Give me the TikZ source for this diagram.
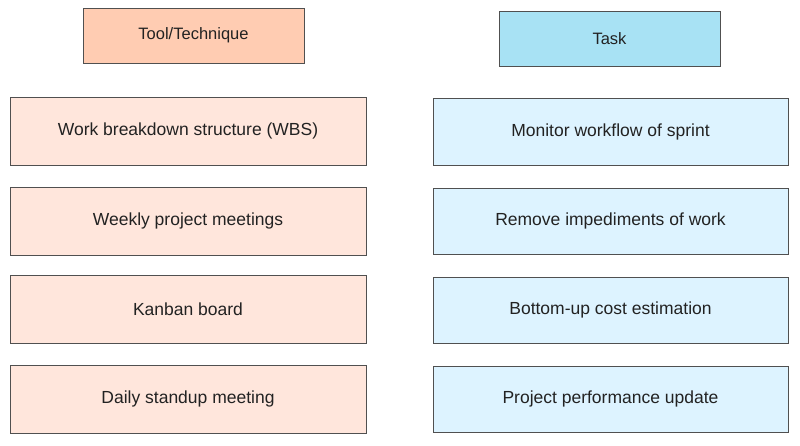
\documentclass[tikz,border=0pt]{standalone}
\usepackage{fontspec}
\setmainfont{Liberation Sans}
\usepackage{tikz}
\usetikzlibrary{positioning}
\usepackage{xcolor}
\definecolor{tthead}{RGB}{255,204,178}
\definecolor{ttbody}{RGB}{255,230,220}
\definecolor{taskhead}{RGB}{168,226,244}
\definecolor{taskbody}{RGB}{221,243,255}
\definecolor{boxline}{RGB}{80,80,80}
\definecolor{boxtext}{RGB}{34,34,34}
\tikzstyle{header} = [rectangle, minimum width=221pt, minimum height=55pt, text centered, draw=boxline, line width=0.9pt, text=boxtext, font=\fontsize{16.5}{19}\selectfont]
\tikzstyle{item} = [rectangle, minimum width=356pt, minimum height=68pt, text centered, draw=boxline, line width=0.9pt, text=boxtext, font=\fontsize{17.5}{20}\selectfont]
\begin{document}
\begin{tikzpicture}[x=1pt,y=-1pt]
\useasboundingbox (0,0) rectangle (800,445);
\node[header, fill=tthead] (tool) at (193.5,35.5) {Tool/Technique};
\node[header, fill=taskhead] (task) at (609.5,39) {Task};

\node[item, fill=ttbody] (wbs) at (188,131) {Work breakdown structure (WBS)};
\node[item, fill=ttbody] (weekly) at (188,221) {Weekly project meetings};
\node[item, fill=ttbody] (kanban) at (188,309) {Kanban board};
\node[item, fill=ttbody] (standup) at (188,399) {Daily standup meeting};

\node[item, fill=taskbody, minimum width=355pt, minimum height=67pt] (monitor) at (610.5,132) {Monitor workflow of sprint};
\node[item, fill=taskbody, minimum width=355pt, minimum height=66pt] (remove) at (610.5,221) {Remove impediments of work};
\node[item, fill=taskbody, minimum width=355pt, minimum height=66pt] (cost) at (610.5,310) {Bottom-up cost estimation};
\node[item, fill=taskbody, minimum width=355pt, minimum height=66pt] (perf) at (610.5,399) {Project performance update};
\end{tikzpicture}
\end{document}
